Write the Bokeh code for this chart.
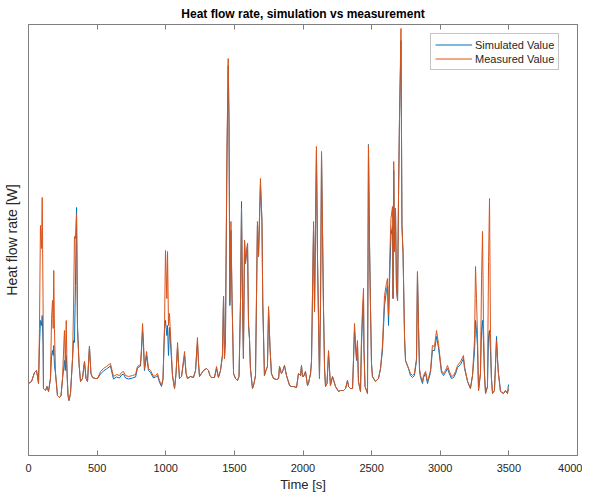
from bokeh.plotting import figure
from bokeh.models import Range1d, LinearAxis, FixedTicker, Legend, LegendItem, CustomLabelingPolicy
from bokeh.embed import file_html
from bokeh.resources import INLINE

time_s = [
    0, 22, 44, 58, 66, 73, 80, 87, 95, 100,
    106, 109, 124, 135, 146, 160, 168, 175, 180, 184,
    189, 197, 211, 226, 237, 248, 259, 262, 268, 275,
    281, 288, 295, 306, 321, 328, 335, 342, 350, 357,
    368, 379, 393, 408, 419, 430, 444, 455, 466, 488,
    503, 525, 546, 568, 597, 619, 641, 663, 678, 692,
    707, 729, 758, 780, 794, 816, 823, 831, 838, 845,
    860, 874, 889, 911, 925, 940, 954, 969, 980, 991,
    998, 1008, 1013, 1020, 1027, 1038, 1049, 1064, 1075, 1086,
    1093, 1100, 1115, 1129, 1137, 1148, 1158, 1180, 1202, 1217,
    1231, 1239, 1246, 1260, 1275, 1297, 1311, 1322, 1333, 1355,
    1370, 1384, 1399, 1413, 1421, 1428, 1435, 1446, 1455, 1461,
    1467, 1475, 1483, 1494, 1508, 1523, 1534, 1545, 1552, 1559,
    1566, 1574, 1581, 1588, 1596, 1603, 1610, 1617, 1632, 1643,
    1654, 1668, 1676, 1690, 1701, 1707, 1719, 1730, 1741, 1749,
    1760, 1770, 1785, 1807, 1822, 1829, 1843, 1851, 1865, 1880,
    1902, 1916, 1931, 1953, 1967, 1982, 1989, 1996, 2004, 2018,
    2033, 2040, 2055, 2062, 2077, 2084, 2098, 2106, 2120, 2128,
    2135, 2142, 2149, 2157, 2164, 2175, 2186, 2200, 2215, 2237,
    2259, 2273, 2295, 2310, 2324, 2332, 2346, 2361, 2368, 2375,
    2390, 2397, 2404, 2419, 2426, 2434, 2441, 2444, 2452, 2470,
    2477, 2485, 2492, 2499, 2506, 2528, 2550, 2565, 2579, 2594,
    2608, 2616, 2623, 2634, 2641, 2652, 2656, 2661, 2667, 2674,
    2681, 2689, 2696, 2703, 2714, 2721, 2729, 2740, 2747, 2769,
    2783, 2798, 2812, 2827, 2834, 2842, 2849, 2856, 2871, 2878,
    2893, 2907, 2929, 2943, 2958, 2973, 2987, 3009, 3024, 3038,
    3053, 3067, 3082, 3097, 3111, 3126, 3148, 3169, 3177, 3199,
    3220, 3235, 3250, 3257, 3264, 3271, 3279, 3293, 3301, 3308,
    3315, 3322, 3330, 3344, 3352, 3359, 3366, 3373, 3381, 3395,
    3403, 3410, 3417, 3424, 3439, 3461, 3475, 3490, 3497,
]

measured_w = [
    720, 740, 830, 850, 790, 720, 1270, 2300, 2070, 2580,
    1570, 670, 650, 690, 640, 770, 1370, 1550, 1270, 1850,
    1270, 820, 600, 580, 600, 770, 1170, 1250, 920, 1350,
    820, 600, 550, 620, 970, 1470, 2190, 2170, 2410, 1270,
    920, 740, 770, 940, 770, 740, 1090, 820, 780, 770,
    770, 840, 870, 890, 920, 790, 810, 800, 830, 840,
    800, 790, 800, 810, 890, 910, 1070, 1320, 1120, 870,
    1040, 870, 850, 790, 800, 820, 750, 700, 770, 1270,
    2050, 1570, 2040, 1300, 1420, 1120, 800, 670, 820, 1130,
    920, 770, 790, 950, 1040, 820, 770, 790, 780, 850,
    1180, 920, 790, 820, 850, 870, 850, 800, 780, 780,
    890, 780, 850, 1000, 1590, 970, 1170, 3070, 3970, 3370,
    1540, 2340, 1570, 820, 770, 750, 790, 1570, 2470, 1570,
    970, 2150, 1920, 2020, 2120, 1340, 1170, 870, 670, 720,
    800, 2340, 1990, 2770, 2340, 1520, 800, 850, 890, 1490,
    1070, 820, 770, 760, 770, 890, 820, 840, 900, 800,
    700, 690, 690, 680, 820, 800, 900, 790, 790, 840,
    700, 720, 820, 940, 2340, 1440, 3090, 1940, 770, 1570,
    3040, 2270, 1500, 870, 690, 720, 1050, 700, 790, 690,
    640, 650, 650, 670, 750, 690, 670, 670, 970, 1320,
    970, 1150, 740, 640, 1170, 1490, 1670, 1070, 690, 620,
    3100, 2040, 1470, 920, 790, 740, 770, 870, 1100, 1600,
    1720, 1770, 1400, 2070, 2370, 2490, 1570, 2940, 2040, 2470,
    1670, 1550, 2600, 3370, 4270, 2300, 2020, 1170, 950, 870,
    820, 800, 820, 970, 1840, 1270, 870, 800, 740, 800,
    840, 740, 850, 1100, 1090, 1250, 1120, 850, 820, 850,
    900, 840, 790, 800, 840, 900, 940, 1000, 890, 740,
    670, 800, 1170, 1890, 1570, 1220, 650, 820, 1770, 2240,
    1320, 820, 620, 690, 1940, 2570, 1220, 770, 620, 650,
    920, 1150, 970, 820, 640, 620, 650, 620, 670,
]

simulated_w = [
    720, 740, 830, 850, 790, 720, 1100, 1350, 1300, 1400,
    1100, 670, 650, 690, 640, 770, 1000, 1050, 1000, 1100,
    900, 820, 600, 580, 600, 770, 900, 950, 850, 1000,
    820, 600, 550, 620, 970, 1150, 1130, 1700, 2480, 1300,
    920, 740, 770, 940, 770, 740, 1090, 820, 780, 770,
    770, 815, 845, 865, 895, 765, 785, 775, 805, 815,
    775, 765, 775, 785, 875, 895, 1040, 1250, 1080, 850,
    1000, 850, 830, 775, 785, 800, 735, 690, 760, 1270,
    1350, 1200, 1300, 1000, 1280, 1050, 800, 670, 820, 1080,
    920, 770, 790, 930, 1000, 820, 770, 790, 780, 850,
    1130, 920, 790, 820, 850, 870, 850, 800, 780, 780,
    870, 780, 850, 1000, 1590, 970, 1170, 2950, 3900, 3300,
    1500, 2250, 1570, 820, 770, 750, 790, 1570, 2540, 1570,
    970, 2150, 1920, 2020, 2120, 1300, 1170, 870, 670, 720,
    800, 2300, 1990, 2700, 2340, 1520, 800, 850, 890, 1450,
    1070, 820, 770, 760, 770, 890, 820, 840, 900, 800,
    700, 690, 690, 680, 820, 800, 900, 790, 790, 840,
    700, 720, 820, 940, 2300, 1440, 3050, 1940, 770, 1570,
    3000, 2270, 1500, 870, 690, 720, 1020, 700, 790, 690,
    640, 650, 650, 670, 750, 690, 670, 670, 950, 1250,
    950, 1100, 740, 640, 1100, 1400, 1550, 1070, 690, 620,
    3110, 2100, 1470, 920, 790, 740, 770, 870, 1050, 1500,
    1650, 1700, 1300, 1900, 2200, 2300, 1570, 2850, 2040, 2470,
    1670, 1550, 2600, 3370, 4150, 2300, 2020, 1170, 950, 870,
    800, 780, 800, 950, 1820, 1250, 850, 780, 720, 780,
    820, 720, 830, 1050, 1050, 1190, 1080, 830, 800, 830,
    870, 815, 770, 780, 815, 880, 910, 970, 870, 740,
    670, 800, 1050, 1350, 1250, 1100, 650, 820, 1250, 1350,
    1150, 820, 620, 690, 1200, 1250, 1050, 770, 620, 650,
    920, 1190, 970, 820, 640, 620, 650, 620, 710,
]

x_ticks = [0, 500, 1000, 1500, 2000, 2500, 3000, 3500, 4000]
series_names = ["Simulated Value", "Measured Value"]
series_colors = ["#0072BD", "#D95319"]

FONT = "Liberation Sans"
AXIS_COLOR = "#7f7f7f"
TEXT_COLOR = "#262626"

p = figure(
    frame_width=549, frame_height=431,
    x_range=Range1d(0, 4000), y_range=Range1d(0, 4310),
    output_backend="svg", toolbar_location=None,
    background_fill_color="white", border_fill_color="white",
)
p.grid.visible = False
p.outline_line_color = AXIS_COLOR
p.outline_line_width = 1

p.title.text = "Heat flow rate, simulation vs measurement"
p.title.align = "center"
p.title.text_font = FONT
p.title.text_font_size = "12px"
p.title.text_font_style = "bold"
p.title.text_color = "#000000"
p.title.offset = 0
p.title.standoff = 8

xa = p.xaxis[0]
xa.ticker = FixedTicker(ticks=x_ticks)
xa.major_tick_in = 5
xa.major_tick_out = 0
xa.minor_tick_line_color = None
xa.axis_line_color = AXIS_COLOR
xa.major_tick_line_color = AXIS_COLOR
xa.major_label_text_font = FONT
xa.major_label_text_font_size = "11px"
xa.major_label_text_color = TEXT_COLOR
xa.major_label_standoff = 8
xa.axis_label = "Time [s]"
xa.axis_label_text_font = FONT
xa.axis_label_text_font_size = "13px"
xa.axis_label_text_font_style = "normal"
xa.axis_label_text_color = TEXT_COLOR
xa.axis_label_standoff = 2

ya = p.yaxis[0]
ya.ticker = FixedTicker(ticks=[])
ya.major_tick_in = 0
ya.major_tick_out = 0
ya.minor_tick_line_color = None
ya.axis_line_color = AXIS_COLOR
ya.major_label_standoff = 0
ya.axis_label = "Heat flow rate [W]"
ya.axis_label_text_font = FONT
ya.axis_label_text_font_size = "14px"
ya.axis_label_text_font_style = "normal"
ya.axis_label_text_color = TEXT_COLOR
ya.axis_label_standoff = 9

top = LinearAxis(
    ticker=FixedTicker(ticks=x_ticks),
    major_tick_in=5, major_tick_out=0,
    minor_tick_line_color=None,
    axis_line_color=AXIS_COLOR, major_tick_line_color=AXIS_COLOR,
    major_label_standoff=0, major_label_text_font_size="0px",
    major_label_policy=CustomLabelingPolicy(
        code="for (const i of indices) { indices.unset(i) } return indices"),
)
p.add_layout(top, "above")

r_sim = p.line(time_s, simulated_w, line_color=series_colors[0], line_width=1)
r_meas = p.line(time_s, measured_w, line_color=series_colors[1], line_width=1)

legend = Legend(
    items=[LegendItem(label=series_names[0], renderers=[r_sim]),
           LegendItem(label=series_names[1], renderers=[r_meas])],
    location=(402, 385),
    glyph_width=37, glyph_height=13, label_height=13,
    label_standoff=3, spacing=1, padding=4, margin=0,
    label_text_font=FONT, label_text_font_size="11px", label_text_color=TEXT_COLOR,
    border_line_color="#8a8a8a", border_line_width=1,
    background_fill_color="white", background_fill_alpha=1,
)
p.add_layout(legend)

open("out.html", "w").write(file_html(p, INLINE))
